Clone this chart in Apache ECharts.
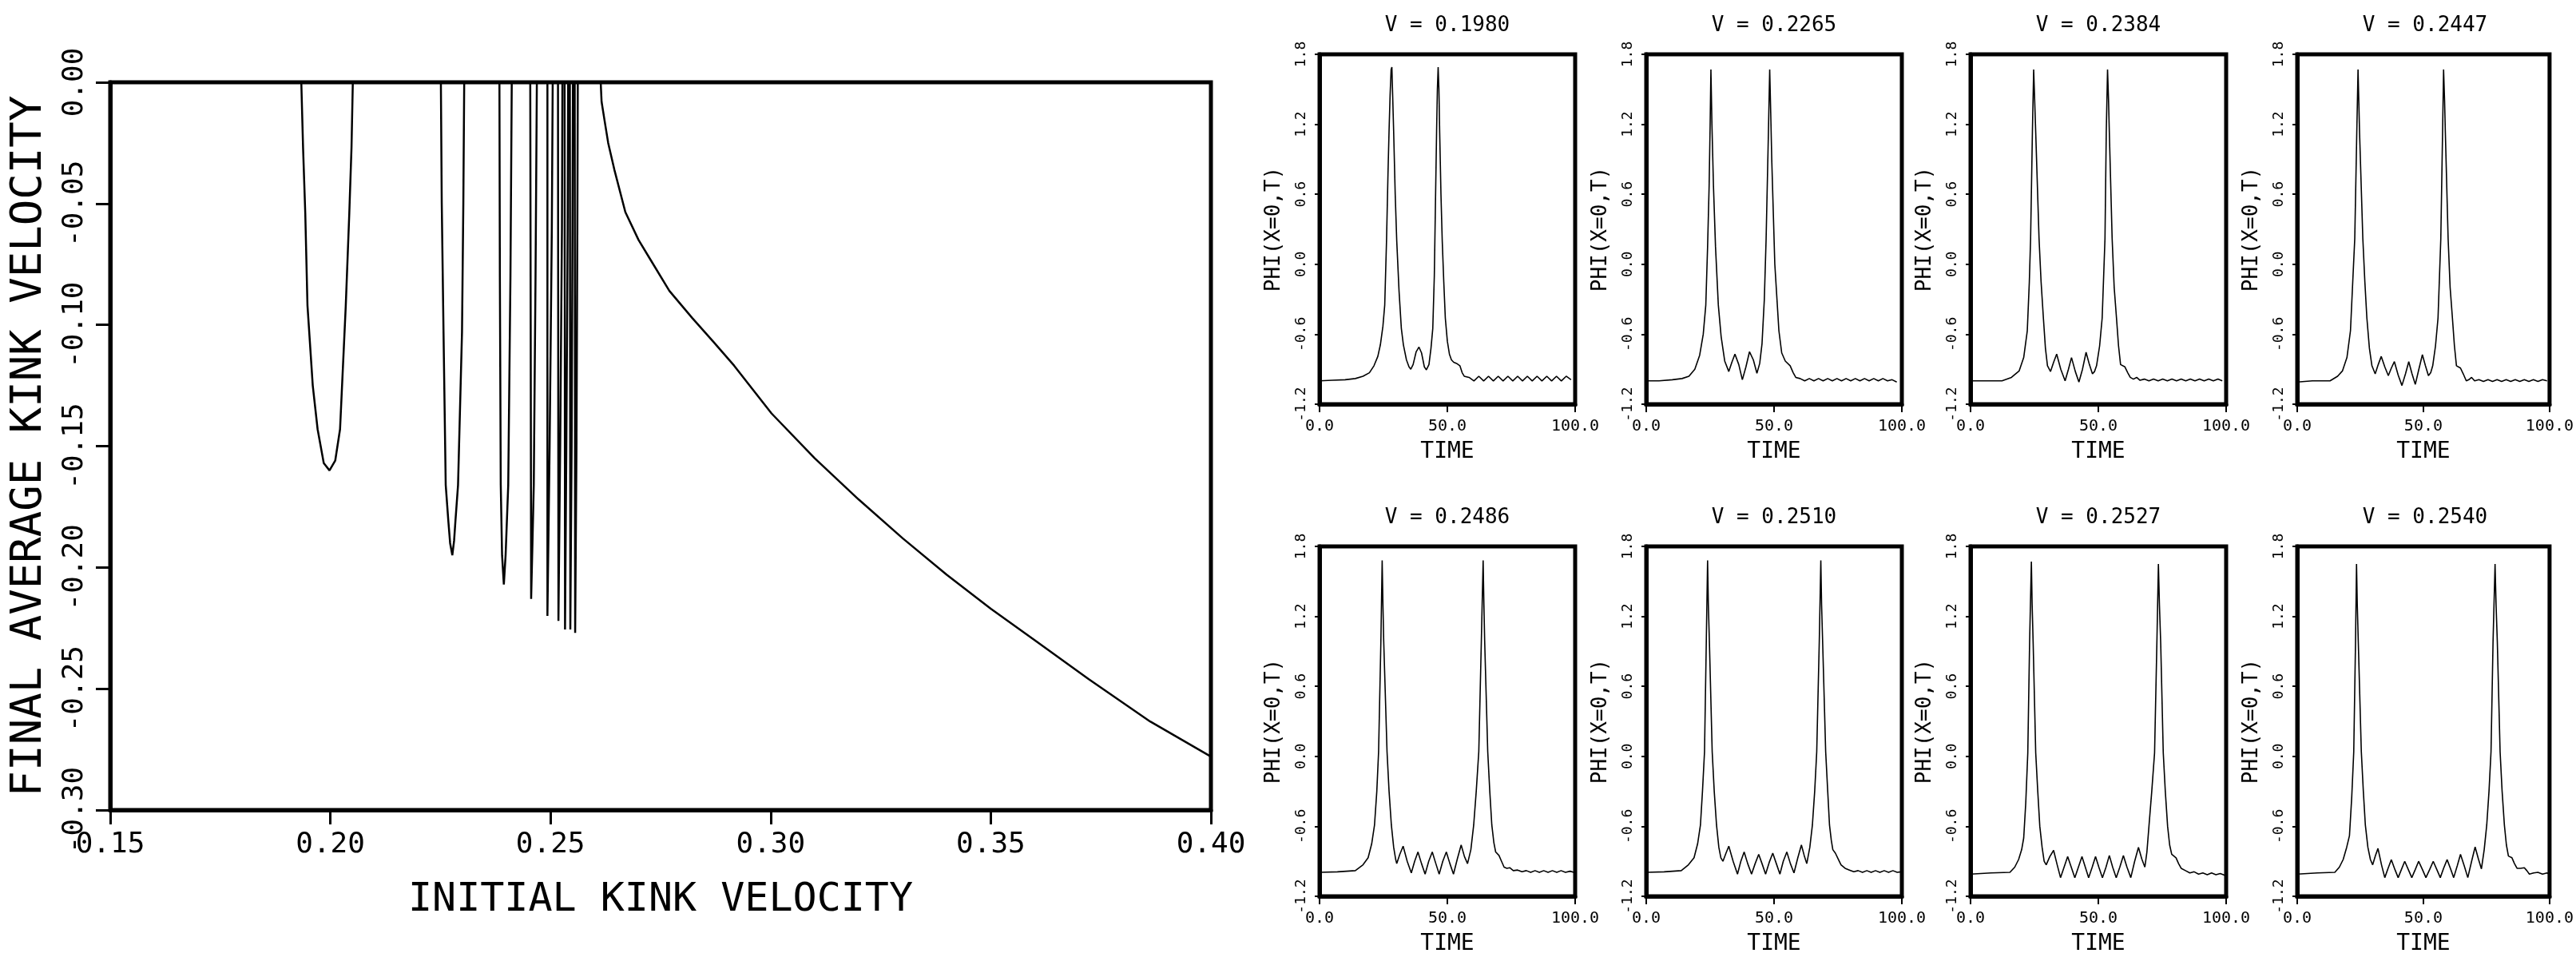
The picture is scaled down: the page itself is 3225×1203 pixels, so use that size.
<!DOCTYPE html>
<html>
<head>
<meta charset="utf-8">
<script src="https://cdn.jsdelivr.net/npm/echarts@6/dist/echarts.min.js"></script>
<style>
html, body { margin: 0; background: #fff; }
#main { width: 3225px; height: 1203px; }
</style>
</head>
<body>
<div id="main"></div>
<script>
// 左图：初始速度 -> 最终平均速度
var initialV = [
    0.15,
    0.1934, 0.1938, 0.1943, 0.1948, 0.1960, 0.1971, 0.1985, 0.1998, 0.2011, 0.2022, 0.2035, 0.2043, 0.2048, 0.2051,
    0.2251, 0.2253, 0.2257, 0.2262, 0.2268, 0.2272, 0.2277, 0.2281, 0.2284, 0.2290, 0.2299, 0.2302, 0.2304,
    0.2384, 0.2385, 0.2387, 0.2390, 0.2394, 0.2398, 0.2404, 0.2409, 0.2412,
    0.2454, 0.2455, 0.2456, 0.2459, 0.2462, 0.2466, 0.2469,
    0.2493, 0.2493, 0.2498, 0.2503, 0.2505,
    0.2517, 0.2518, 0.2522, 0.2526, 0.2527,
    0.2532, 0.2533, 0.2536, 0.2539, 0.2540,
    0.2544, 0.2545, 0.2548, 0.2550, 0.2551,
    0.2555, 0.2556, 0.2559, 0.2561, 0.2562,
    0.2614, 0.2616, 0.2623, 0.2631, 0.2645, 0.2670, 0.2700, 0.2727, 0.2770, 0.2822, 0.2870, 0.2917,
    0.3002, 0.31, 0.32, 0.33, 0.34, 0.35, 0.36, 0.3722, 0.3862, 0.40
];
var finalV = [
    0,
    0, -0.027, -0.054, -0.092, -0.125, -0.143, -0.157, -0.160, -0.156, -0.143, -0.092, -0.054, -0.027, 0,
    0, -0.05, -0.103, -0.166, -0.181, -0.190, -0.195, -0.189, -0.181, -0.166, -0.103, -0.05, 0,
    0, -0.08, -0.166, -0.195, -0.207, -0.195, -0.166, -0.08, 0,
    0, -0.1, -0.213, -0.19, -0.166, -0.08, 0,
    0, -0.220, -0.15, -0.06, 0,
    0, -0.222, -0.15, -0.06, 0,
    0, -0.2256, -0.15, -0.06, 0,
    0, -0.2256, -0.15, -0.06, 0,
    0, -0.227, -0.15, -0.06, 0,
    0, -0.008, -0.016, -0.025, -0.036, -0.0535, -0.065, -0.0731, -0.086, -0.0972, -0.107, -0.1168,
    -0.1365, -0.155, -0.172, -0.188, -0.203, -0.217, -0.230, -0.246, -0.2635, -0.278
];

// 右侧小图：PHI(X=0,T)，[时间, 值]
var panelTitles = ['V = 0.1980', 'V = 0.2265', 'V = 0.2384', 'V = 0.2447',
                   'V = 0.2486', 'V = 0.2510', 'V = 0.2527', 'V = 0.2540'];

var phi1980 = [[0,-1.0],[5,-0.995],[10,-0.99],[14,-0.98],[17,-0.96],[19.5,-0.93],[21.3,-0.87],[22.8,-0.79],[23.8,-0.69],[24.8,-0.53],[25.5,-0.35],[26.2,0.2],[26.8,0.8],[27.2,1.15],[27.6,1.45],[28.0,1.67],[28.3,1.69],[28.6,1.45],[29.0,1.13],[29.6,0.6],[30.2,0.2],[31.1,-0.23],[32.0,-0.55],[32.8,-0.69],[34.0,-0.82],[35.0,-0.88],[35.7,-0.90],[36.6,-0.86],[37.8,-0.75],[38.9,-0.71],[39.9,-0.76],[41.0,-0.88],[41.8,-0.905],[42.8,-0.86],[43.6,-0.72],[44.3,-0.55],[44.9,-0.1],[45.4,0.6],[45.8,1.15],[46.1,1.5],[46.4,1.69],[46.7,1.5],[47.0,1.13],[47.5,0.6],[48.0,0.2],[48.6,-0.15],[49.2,-0.46],[50.0,-0.66],[50.8,-0.77],[51.6,-0.82],[52.5,-0.84],[53.6,-0.85],[54.9,-0.87],[55.8,-0.93],[56.6,-0.96],[58.5,-0.97],[60.4,-1.0],[62.3,-0.96],[64.2,-1.0],[66.1,-0.96],[68.0,-1.0],[69.9,-0.96],[71.8,-1.0],[73.7,-0.96],[75.6,-1.0],[77.5,-0.96],[79.4,-1.0],[81.3,-0.96],[83.2,-1.0],[85.1,-0.96],[87.0,-1.0],[88.9,-0.96],[90.8,-1.0],[92.7,-0.96],[94.6,-1.0],[96.5,-0.96],[98.4,-0.99]];
var phi2265 = [[0,-1.0],[5,-1.0],[10.2,-0.99],[14,-0.98],[16.7,-0.96],[19,-0.9],[20.9,-0.78],[22.3,-0.6],[23.3,-0.35],[24.0,0.15],[24.6,0.67],[25.0,1.2],[25.3,1.67],[25.7,1.2],[26.3,0.67],[27.1,0.15],[28.2,-0.35],[29.3,-0.62],[30.7,-0.83],[32.3,-0.92],[33.5,-0.84],[34.7,-0.77],[36.2,-0.86],[37.6,-0.99],[39.0,-0.88],[40.4,-0.75],[41.9,-0.82],[43.3,-0.935],[44.4,-0.85],[45.3,-0.68],[46.2,-0.3],[46.9,0.22],[47.8,1.13],[48.3,1.67],[48.7,1.3],[49.1,0.9],[50.3,0.0],[51.9,-0.57],[53.0,-0.76],[54.4,-0.83],[56.3,-0.87],[57.5,-0.93],[58.5,-0.97],[60.2,-0.98],[62,-1.0],[63.8,-0.98],[65.6,-1.0],[67.4,-0.98],[69.2,-1.0],[71,-0.98],[72.8,-1.0],[74.6,-0.98],[76.4,-1.0],[78.2,-0.98],[80,-1.0],[81.8,-0.98],[83.6,-1.0],[85.4,-0.98],[87.2,-1.0],[89,-0.98],[90.8,-1.0],[92.6,-0.98],[94.4,-1.0],[96.2,-0.99],[98,-1.01]];
var phi2384 = [[0,-1.0],[6,-1.0],[12.3,-1.0],[16,-0.97],[19,-0.915],[20.8,-0.8],[22.2,-0.57],[23.0,-0.15],[23.5,0.22],[24.2,1.13],[24.7,1.67],[25.1,1.4],[25.5,1.13],[26.8,0.22],[27.6,-0.15],[28.5,-0.46],[29.3,-0.72],[30.1,-0.87],[31.3,-0.92],[32.5,-0.84],[33.7,-0.77],[35.3,-0.9],[37.0,-1.0],[38.3,-0.9],[39.5,-0.80],[41.0,-0.92],[42.4,-1.01],[43.8,-0.9],[45.2,-0.755],[46.5,-0.86],[47.7,-0.94],[48.5,-0.92],[49.3,-0.87],[50.5,-0.7],[51.5,-0.46],[52.6,0.22],[53.1,1.13],[53.6,1.67],[54.0,1.4],[54.3,1.13],[55.4,0.22],[56.2,-0.2],[57.1,-0.46],[57.9,-0.7],[58.7,-0.86],[60.4,-0.88],[61.5,-0.93],[62.5,-0.97],[63.7,-0.985],[65.0,-0.97],[66.3,-0.995],[68,-0.985],[69.8,-1.0],[71.6,-0.985],[73.4,-1.0],[75.2,-0.985],[77,-1.0],[78.8,-0.985],[80.6,-1.0],[82.4,-0.985],[84.2,-1.0],[86,-0.985],[87.8,-1.0],[89.6,-0.985],[91.4,-1.0],[93.2,-0.985],[95,-1.0],[96.8,-0.985],[98.5,-1.0]];
var phi2447 = [[0,-1.01],[6,-1.0],[13,-1.0],[16,-0.96],[17.9,-0.915],[19.7,-0.8],[21.1,-0.57],[22.0,-0.15],[22.8,0.22],[23.6,1.13],[24.1,1.67],[24.4,1.4],[24.7,1.13],[26.0,0.22],[26.8,-0.15],[27.6,-0.46],[28.6,-0.72],[29.6,-0.87],[30.9,-0.94],[32.1,-0.86],[33.3,-0.79],[34.7,-0.88],[36.1,-0.955],[37.3,-0.89],[38.5,-0.835],[40.0,-0.95],[41.5,-1.04],[42.9,-0.94],[44.2,-0.835],[45.5,-0.94],[46.8,-1.03],[48.2,-0.9],[49.6,-0.775],[50.8,-0.87],[52.0,-0.955],[52.9,-0.93],[53.7,-0.87],[54.8,-0.7],[55.8,-0.46],[56.9,0.22],[57.6,1.13],[58.0,1.67],[58.4,1.4],[58.7,1.13],[59.8,0.22],[60.6,-0.2],[61.5,-0.46],[62.3,-0.7],[63.1,-0.87],[64.7,-0.89],[65.8,-0.94],[67.0,-1.0],[68.0,-0.99],[69.1,-0.97],[70.3,-1.0],[72,-0.99],[73.8,-1.005],[75.6,-0.99],[77.4,-1.005],[79.2,-0.99],[81,-1.005],[82.8,-0.99],[84.6,-1.005],[86.4,-0.99],[88.2,-1.005],[90,-0.99],[91.8,-1.005],[93.6,-0.99],[95.4,-1.005],[97.2,-0.99],[99,-1.0]];
var phi2486 = [[0,-0.995],[7,-0.99],[14,-0.98],[17,-0.93],[19,-0.87],[20.4,-0.75],[21.5,-0.59],[22.4,-0.3],[23.1,0.04],[24.0,0.99],[24.5,1.68],[24.8,1.3],[25.1,0.99],[26.4,0.04],[27.2,-0.3],[28.1,-0.59],[29.0,-0.78],[29.8,-0.885],[30.2,-0.92],[31.4,-0.84],[32.7,-0.77],[34.3,-0.9],[35.9,-1.0],[37.2,-0.9],[38.5,-0.82],[39.9,-0.92],[41.3,-1.01],[42.7,-0.9],[44.1,-0.82],[45.5,-0.92],[46.8,-1.01],[48.2,-0.9],[49.6,-0.82],[51.0,-0.92],[52.4,-1.01],[53.9,-0.88],[55.4,-0.76],[56.7,-0.86],[57.9,-0.92],[59.2,-0.8],[60.3,-0.59],[61.3,-0.3],[62.3,0.04],[63.3,0.99],[64.0,1.68],[64.3,1.3],[64.6,0.99],[65.8,0.04],[66.6,-0.3],[67.4,-0.59],[68.2,-0.74],[68.9,-0.82],[70.2,-0.85],[71.2,-0.9],[72.2,-0.95],[73.3,-0.96],[74.4,-0.955],[75.8,-0.98],[77.5,-0.975],[79.2,-0.99],[80.9,-0.98],[82.6,-0.995],[84.3,-0.98],[86,-0.995],[87.7,-0.98],[89.4,-0.995],[91.1,-0.98],[92.8,-0.995],[94.5,-0.98],[96.2,-0.995],[98,-0.985],[99.5,-0.995]];
var phi2510 = [[0,-0.995],[7,-0.99],[13.7,-0.98],[16.5,-0.93],[18.7,-0.87],[20.1,-0.75],[21.2,-0.59],[22.0,-0.3],[22.8,0.04],[23.5,0.99],[24.0,1.68],[24.3,1.3],[24.7,0.99],[25.8,0.04],[26.6,-0.3],[27.5,-0.59],[28.4,-0.78],[29.2,-0.87],[30.0,-0.90],[31.2,-0.83],[32.3,-0.77],[34.0,-0.9],[35.7,-1.01],[37.0,-0.9],[38.3,-0.82],[39.7,-0.92],[41.2,-1.01],[42.6,-0.92],[44.0,-0.84],[45.3,-0.92],[46.7,-1.01],[48.1,-0.91],[49.5,-0.83],[50.9,-0.92],[52.3,-1.01],[53.6,-0.9],[55.0,-0.82],[56.4,-0.92],[57.8,-1.0],[59.3,-0.87],[60.7,-0.76],[61.8,-0.85],[62.8,-0.92],[64.0,-0.78],[65.0,-0.59],[65.9,-0.3],[66.7,0.04],[67.7,0.99],[68.3,1.68],[68.6,1.3],[69.0,0.99],[70.2,0.04],[71.0,-0.3],[71.7,-0.59],[72.4,-0.72],[73.0,-0.8],[74.0,-0.83],[75.1,-0.88],[76.2,-0.93],[77.8,-0.96],[79.5,-0.975],[81.2,-0.99],[82.9,-0.98],[84.6,-0.995],[86.3,-0.98],[88,-0.995],[89.7,-0.98],[91.4,-0.995],[93.1,-0.98],[94.8,-0.995],[96.5,-0.98],[98.2,-0.995],[99.7,-0.99]];
var phi2527 = [[0,-1.01],[8,-1.0],[15.4,-0.995],[17.3,-0.95],[18.8,-0.885],[20.0,-0.8],[20.8,-0.70],[21.6,-0.4],[22.4,0.03],[23.1,0.97],[23.8,1.67],[24.1,1.3],[24.5,0.97],[25.5,0.03],[26.3,-0.3],[27.1,-0.6],[28.0,-0.78],[28.8,-0.90],[29.6,-0.93],[31.0,-0.86],[32.5,-0.806],[33.9,-0.93],[35.2,-1.04],[36.6,-0.95],[38.0,-0.86],[39.4,-0.95],[40.8,-1.04],[42.2,-0.95],[43.6,-0.86],[44.9,-0.95],[46.2,-1.04],[47.6,-0.95],[48.9,-0.86],[50.2,-0.95],[51.6,-1.04],[53.0,-0.95],[54.3,-0.85],[55.6,-0.95],[57.0,-1.04],[58.4,-0.95],[59.8,-0.85],[61.2,-0.95],[62.7,-1.04],[64.2,-0.9],[65.7,-0.78],[67.0,-0.88],[68.2,-0.95],[69.0,-0.82],[69.8,-0.6],[70.9,-0.3],[72.0,0.03],[72.9,0.97],[73.5,1.65],[73.9,1.3],[74.4,0.97],[75.4,0.03],[76.2,-0.3],[77.1,-0.6],[77.9,-0.76],[78.7,-0.84],[80.4,-0.87],[81.4,-0.92],[82.4,-0.96],[84.1,-0.98],[85.8,-1.0],[87.5,-0.99],[89.2,-1.01],[90.9,-1.0],[92.6,-1.015],[94.3,-1.0],[96,-1.015],[97.7,-1.005],[99.5,-1.02]];
var phi2540 = [[0,-1.01],[8,-1.0],[14.9,-0.995],[16.7,-0.95],[18.2,-0.885],[19.6,-0.78],[20.7,-0.68],[21.6,-0.35],[22.4,0.04],[23.1,0.98],[23.5,1.65],[23.8,1.3],[24.2,0.98],[25.4,0.04],[26.2,-0.3],[27.0,-0.59],[28.0,-0.78],[29.0,-0.885],[29.9,-0.93],[31.0,-0.85],[32.0,-0.79],[33.4,-0.93],[34.7,-1.04],[36.0,-0.96],[37.3,-0.886],[38.7,-0.97],[40.0,-1.04],[41.3,-0.97],[42.6,-0.90],[44.0,-0.97],[45.4,-1.04],[46.8,-0.97],[48.1,-0.90],[49.6,-0.97],[51.0,-1.04],[52.5,-0.97],[53.9,-0.90],[55.3,-0.97],[56.7,-1.04],[58.0,-0.96],[59.4,-0.886],[60.7,-0.96],[62.0,-1.04],[63.4,-0.94],[64.7,-0.84],[66.2,-0.94],[67.6,-1.04],[69.1,-0.9],[70.5,-0.777],[71.8,-0.88],[73.0,-0.965],[74.1,-0.8],[75.1,-0.59],[76.0,-0.3],[76.8,0.04],[77.6,0.98],[78.4,1.65],[78.8,1.3],[79.3,0.98],[80.4,0.04],[81.2,-0.3],[82.1,-0.59],[82.9,-0.76],[83.7,-0.855],[85.1,-0.87],[86.1,-0.92],[87.1,-0.96],[88.5,-0.96],[90.0,-0.955],[91.0,-0.98],[92.0,-1.01],[93.7,-1.0],[95.4,-0.995],[97.2,-1.01],[99,-1.0],[100,-1.01]];

var panelData = [phi1980, phi2265, phi2384, phi2447, phi2486, phi2510, phi2527, phi2540];

(function () {
    var FONT = "'DejaVu Sans Mono', monospace";
    var myChart = echarts.init(document.getElementById('main'), null, { renderer: 'canvas' });

    var grids = [], xAxes = [], yAxes = [], series = [], texts = [];

    // 左侧大图
    grids.push({ left: 138, top: 103, width: 1378, height: 911, show: true, borderColor: '#000', borderWidth: 5 });
    xAxes.push({
        gridIndex: 0, type: 'value', min: 0.15, max: 0.40, interval: 0.05,
        axisLine: { show: true, onZero: false, lineStyle: { color: '#000', width: 5 } },
        axisTick: { show: true, inside: false, length: 18, lineStyle: { color: '#000', width: 3 } },
        splitLine: { show: false },
        axisLabel: { margin: 26, fontSize: 36, fontFamily: FONT, color: '#000', showMinLabel: true, showMaxLabel: true,
            formatter: function (v) { return v.toFixed(2); } },
        name: 'INITIAL KINK VELOCITY', nameLocation: 'middle', nameGap: 88,
        nameTextStyle: { fontSize: 50, fontFamily: FONT, color: '#000' }
    });
    yAxes.push({
        gridIndex: 0, type: 'value', min: -0.30, max: 0, interval: 0.05,
        axisLine: { show: true, onZero: false, lineStyle: { color: '#000', width: 5 } },
        axisTick: { show: true, inside: false, length: 18, lineStyle: { color: '#000', width: 3 } },
        splitLine: { show: false },
        axisLabel: { rotate: 90, margin: 26, fontSize: 36, fontFamily: FONT, color: '#000', showMinLabel: true, showMaxLabel: true,
            formatter: function (v) { return v.toFixed(2); } },
        name: 'FINAL AVERAGE KINK VELOCITY', nameLocation: 'middle', nameGap: 74, nameRotate: 90,
        nameTextStyle: { fontSize: 54, fontFamily: FONT, color: '#000' }
    });
    series.push({
        type: 'line', xAxisIndex: 0, yAxisIndex: 0, showSymbol: false, animation: false,
        data: initialV.map(function (v, i) { return [v, finalV[i]]; }),
        lineStyle: { color: '#000', width: 2.5 }
    });

    // 右侧 8 个小图
    var colLeft = [1652, 2061, 2467, 2876];
    var rowTop = [68, 684];
    panelData.forEach(function (d, i) {
        var k = i + 1;
        var left = colLeft[i % 4], top = rowTop[Math.floor(i / 4)];
        grids.push({ left: left, top: top, width: 320, height: 438, show: true, borderColor: '#000', borderWidth: 5 });
        xAxes.push({
            gridIndex: k, type: 'value', min: 0, max: 100, interval: 50,
            axisLine: { show: true, onZero: false, lineStyle: { color: '#000', width: 5 } },
            axisTick: { show: true, inside: false, length: 10, lineStyle: { color: '#000', width: 2 } },
            splitLine: { show: false },
            axisLabel: { margin: 18, fontSize: 20, fontFamily: FONT, color: '#000', showMinLabel: true, showMaxLabel: true,
                formatter: function (v) { return v.toFixed(1); } },
            name: 'TIME', nameLocation: 'middle', nameGap: 46,
            nameTextStyle: { fontSize: 28, fontFamily: FONT, color: '#000' }
        });
        yAxes.push({
            gridIndex: k, type: 'value', min: -1.2, max: 1.8, interval: 0.6,
            axisLine: { show: true, onZero: false, lineStyle: { color: '#000', width: 5 } },
            axisTick: { show: true, inside: false, length: 6, lineStyle: { color: '#000', width: 2 } },
            splitLine: { show: false },
            axisLabel: { rotate: 90, margin: 14, fontSize: 18, fontFamily: FONT, color: '#000', showMinLabel: true, showMaxLabel: true,
                formatter: function (v) { return v.toFixed(1); } },
            name: 'PHI(X=0,T)', nameLocation: 'middle', nameGap: 44, nameRotate: 90,
            nameTextStyle: { fontSize: 26, fontFamily: FONT, color: '#000' }
        });
        series.push({
            type: 'line', xAxisIndex: k, yAxisIndex: k, showSymbol: false, animation: false,
            data: d, lineStyle: { color: '#000', width: 1.6 }
        });
        texts.push({
            type: 'text', x: left + 160, y: top - 36,
            style: { text: panelTitles[i], fontSize: 26, fontFamily: FONT, fill: '#000', align: 'center', verticalAlign: 'middle' }
        });
    });

    var option = {
        backgroundColor: '#fff',
        animation: false,
        grid: grids,
        xAxis: xAxes,
        yAxis: yAxes,
        series: series,
        graphic: texts
    };
    myChart.setOption(option);
})();
</script>
</body>
</html>
